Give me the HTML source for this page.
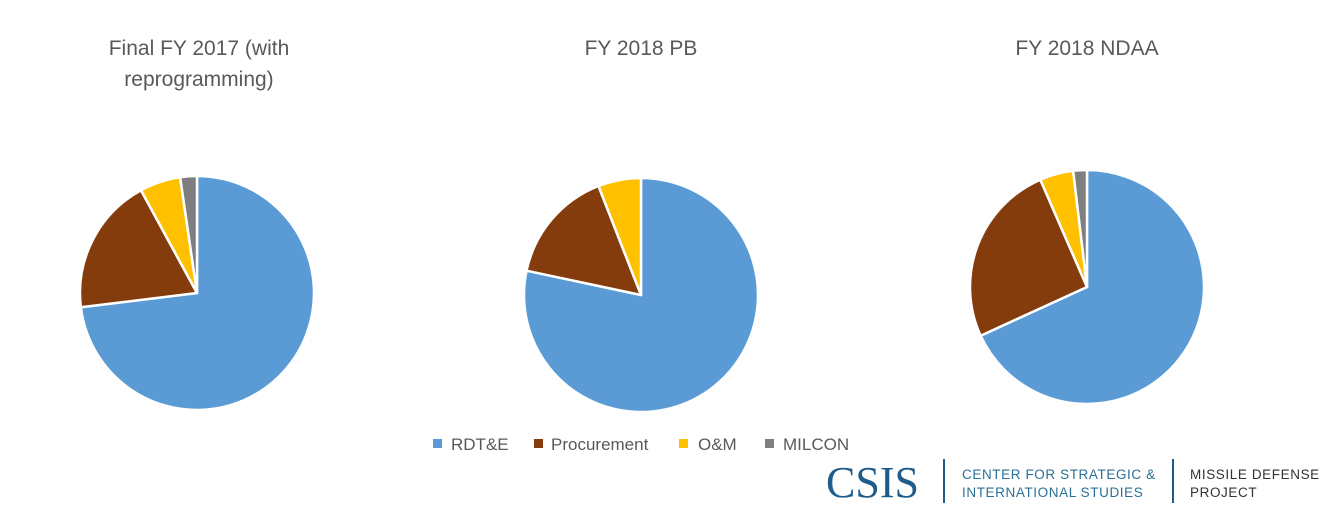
<!DOCTYPE html>
<html><head><meta charset="utf-8"><style>
body{margin:0;background:#fff;width:1333px;height:516px;overflow:hidden;font-family:"Liberation Sans",sans-serif}
</style></head><body>
<svg id="s" width="1333" height="516" xmlns="http://www.w3.org/2000/svg" font-family="Liberation Sans, sans-serif">
<g fill="#595959" font-size="21" text-anchor="middle">
<text x="199" y="55">Final FY 2017 (with</text>
<text x="199" y="86">reprogramming)</text>
<text x="641" y="55">FY 2018 PB</text>
<text x="1087" y="55">FY 2018 NDAA</text>
</g>
<g id="pies"></g>
<g font-size="17" fill="#595959">
<rect x="433" y="439" width="9" height="9" fill="#5b9bd5"/><text x="451" y="450">RDT&amp;E</text>
<rect x="534" y="439" width="9" height="9" fill="#843c0c"/><text x="551" y="450">Procurement</text>
<rect x="679" y="439" width="9" height="9" fill="#ffc000"/><text x="698" y="450">O&amp;M</text>
<rect x="765" y="439" width="9" height="9" fill="#7f7f7f"/><text x="783" y="450">MILCON</text>
</g>
<text x="826" y="497" font-family="Liberation Serif, serif" font-size="44" fill="#1f5c8a">CSIS</text>
<rect x="943" y="459" width="2" height="44" fill="#1f5c8a"/>
<g font-size="13.5" fill="#2a6f96" letter-spacing="0.6"><text x="962" y="479">CENTER FOR STRATEGIC &amp;</text><text x="962" y="497">INTERNATIONAL STUDIES</text></g>
<rect x="1172" y="459" width="2" height="44" fill="#1f5c8a"/>
<g font-size="13.5" fill="#333" letter-spacing="0.6"><text x="1190" y="479">MISSILE DEFENSE</text><text x="1190" y="497">PROJECT</text></g>
</svg>
<script>
var cols=["#5b9bd5","#843c0c","#ffc000","#7f7f7f"];
var pies=[[197,293,117,[0,263,331.4,351.7,360]],[641,295,117,[0,282,338.7,360,360]],[1087,287,117,[0,245.4,336.5,353.2,360]]];
var g=document.getElementById("pies"),h="";
pies.forEach(function(p){var cx=p[0],cy=p[1],r=p[2],a=p[3];
for(var i=0;i<4;i++){var a0=a[i],a1=a[i+1];if(a1-a0<0.01)continue;
function pt(d){var t=d*Math.PI/180;return (cx+r*Math.sin(t)).toFixed(2)+","+(cy-r*Math.cos(t)).toFixed(2);}
h+='<path d="M'+cx+','+cy+' L'+pt(a0)+' A'+r+','+r+' 0 '+(a1-a0>180?1:0)+' 1 '+pt(a1)+' Z" fill="'+cols[i]+'" stroke="#fff" stroke-width="2.5" stroke-linejoin="round"/>';}});
g.innerHTML=h;
</script>
</body></html>
